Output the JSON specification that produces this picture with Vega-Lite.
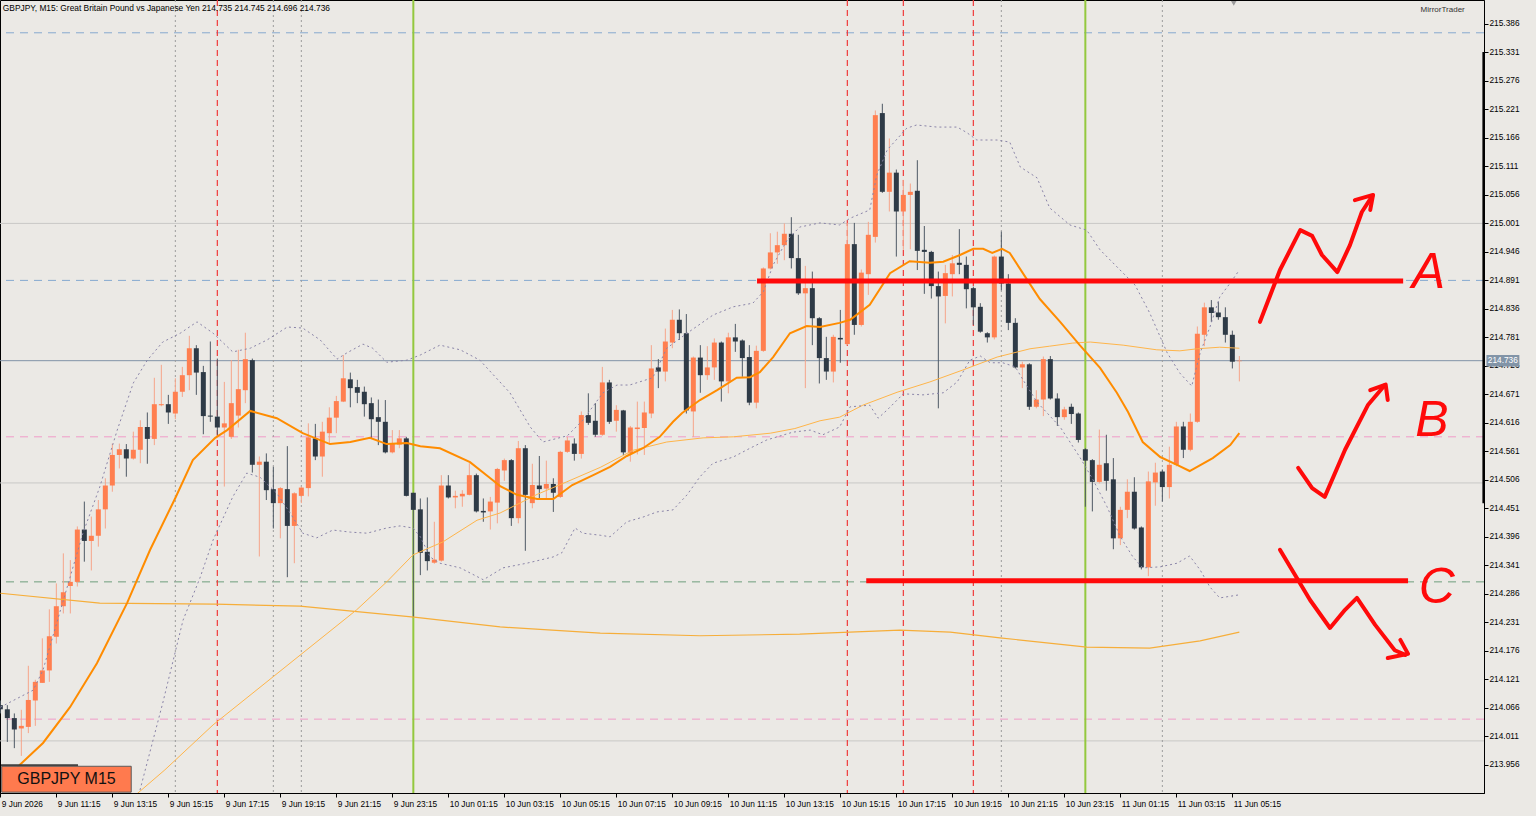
{
  "$schema": "https://vega.github.io/schema/vega-lite/v6.json",
  "width": 1484,
  "height": 793,
  "autosize": {"type": "none"},
  "padding": {"left": 0, "top": 0, "right": 52, "bottom": 23},
  "background": "#EBE9E5",
  "config": {
    "view": {"stroke": "#000000", "strokeWidth": 1},
    "scale": {"continuousPadding": 0},
    "axis": {"grid": false, "domainColor": "#000000", "tickColor": "#000000", "labelColor": "#000000", "labelFont": "Liberation Sans", "labelFontSize": 8.3, "tickSize": 4, "labelPadding": 1, "labelFlush": false, "labelOverlap": false, "labelBound": false, "labelSeparation": 0}
  },
  "datasets": {
    "candles": [
      {"bar":0,"open":214.071,"high":214.080,"low":214.055,"close":214.063},
      {"bar":1,"open":214.063,"high":214.071,"low":214.000,"close":214.046},
      {"bar":2,"open":214.046,"high":214.055,"low":213.988,"close":214.024},
      {"bar":3,"open":214.026,"high":214.062,"low":213.973,"close":214.031},
      {"bar":4,"open":214.029,"high":214.147,"low":214.017,"close":214.081},
      {"bar":5,"open":214.080,"high":214.120,"low":214.031,"close":214.116},
      {"bar":6,"open":214.114,"high":214.200,"low":214.114,"close":214.138},
      {"bar":7,"open":214.138,"high":214.256,"low":214.116,"close":214.204},
      {"bar":8,"open":214.203,"high":214.306,"low":214.190,"close":214.262},
      {"bar":9,"open":214.262,"high":214.364,"low":214.248,"close":214.289},
      {"bar":10,"open":214.301,"high":214.351,"low":214.248,"close":214.309},
      {"bar":11,"open":214.309,"high":214.416,"low":214.300,"close":214.410},
      {"bar":12,"open":214.410,"high":214.464,"low":214.348,"close":214.388},
      {"bar":13,"open":214.388,"high":214.435,"low":214.331,"close":214.398},
      {"bar":14,"open":214.398,"high":214.467,"low":214.377,"close":214.449},
      {"bar":15,"open":214.449,"high":214.509,"low":214.412,"close":214.495},
      {"bar":16,"open":214.495,"high":214.576,"low":214.483,"close":214.554},
      {"bar":17,"open":214.554,"high":214.576,"low":214.528,"close":214.565},
      {"bar":18,"open":214.565,"high":214.575,"low":214.512,"close":214.547},
      {"bar":19,"open":214.547,"high":214.599,"low":214.545,"close":214.564},
      {"bar":20,"open":214.564,"high":214.621,"low":214.538,"close":214.608},
      {"bar":21,"open":214.608,"high":214.636,"low":214.537,"close":214.585},
      {"bar":22,"open":214.585,"high":214.703,"low":214.573,"close":214.652},
      {"bar":23,"open":214.650,"high":214.728,"low":214.648,"close":214.652},
      {"bar":24,"open":214.652,"high":214.670,"low":214.614,"close":214.636},
      {"bar":25,"open":214.634,"high":214.702,"low":214.623,"close":214.676},
      {"bar":26,"open":214.676,"high":214.724,"low":214.666,"close":214.708},
      {"bar":27,"open":214.708,"high":214.784,"low":214.679,"close":214.760},
      {"bar":28,"open":214.760,"high":214.766,"low":214.670,"close":214.713},
      {"bar":29,"open":214.714,"high":214.726,"low":214.594,"close":214.629},
      {"bar":30,"open":214.630,"high":214.773,"low":214.618,"close":214.628},
      {"bar":31,"open":214.628,"high":214.740,"low":214.593,"close":214.607},
      {"bar":32,"open":214.607,"high":214.695,"low":214.493,"close":214.615},
      {"bar":33,"open":214.589,"high":214.737,"low":214.585,"close":214.654},
      {"bar":34,"open":214.630,"high":214.757,"low":214.607,"close":214.681},
      {"bar":35,"open":214.679,"high":214.790,"low":214.654,"close":214.739},
      {"bar":36,"open":214.737,"high":214.740,"low":214.520,"close":214.535},
      {"bar":37,"open":214.535,"high":214.551,"low":214.358,"close":214.541},
      {"bar":38,"open":214.541,"high":214.557,"low":214.467,"close":214.486},
      {"bar":39,"open":214.488,"high":214.531,"low":214.412,"close":214.461},
      {"bar":40,"open":214.461,"high":214.492,"low":214.393,"close":214.490},
      {"bar":41,"open":214.488,"high":214.571,"low":214.318,"close":214.417},
      {"bar":42,"open":214.417,"high":214.482,"low":214.345,"close":214.480},
      {"bar":43,"open":214.475,"high":214.493,"low":214.461,"close":214.491},
      {"bar":44,"open":214.490,"high":214.615,"low":214.474,"close":214.588},
      {"bar":45,"open":214.586,"high":214.614,"low":214.544,"close":214.551},
      {"bar":46,"open":214.551,"high":214.618,"low":214.512,"close":214.599},
      {"bar":47,"open":214.596,"high":214.646,"low":214.575,"close":214.626},
      {"bar":48,"open":214.626,"high":214.668,"low":214.596,"close":214.658},
      {"bar":49,"open":214.657,"high":214.747,"low":214.656,"close":214.702},
      {"bar":50,"open":214.700,"high":214.713,"low":214.646,"close":214.683},
      {"bar":51,"open":214.685,"high":214.699,"low":214.654,"close":214.674},
      {"bar":52,"open":214.676,"high":214.686,"low":214.628,"close":214.652},
      {"bar":53,"open":214.654,"high":214.665,"low":214.586,"close":214.623},
      {"bar":54,"open":214.627,"high":214.661,"low":214.573,"close":214.618},
      {"bar":55,"open":214.618,"high":214.660,"low":214.557,"close":214.559},
      {"bar":56,"open":214.559,"high":214.602,"low":214.557,"close":214.576},
      {"bar":57,"open":214.574,"high":214.602,"low":214.567,"close":214.586},
      {"bar":58,"open":214.586,"high":214.589,"low":214.474,"close":214.475},
      {"bar":59,"open":214.481,"high":214.481,"low":214.241,"close":214.448},
      {"bar":60,"open":214.449,"high":214.470,"low":214.322,"close":214.365},
      {"bar":61,"open":214.367,"high":214.472,"low":214.331,"close":214.349},
      {"bar":62,"open":214.346,"high":214.425,"low":214.344,"close":214.352},
      {"bar":63,"open":214.350,"high":214.515,"low":214.348,"close":214.495},
      {"bar":64,"open":214.495,"high":214.515,"low":214.470,"close":214.472},
      {"bar":65,"open":214.472,"high":214.485,"low":214.451,"close":214.475},
      {"bar":66,"open":214.474,"high":214.486,"low":214.454,"close":214.479},
      {"bar":67,"open":214.477,"high":214.538,"low":214.476,"close":214.515},
      {"bar":68,"open":214.515,"high":214.518,"low":214.443,"close":214.445},
      {"bar":69,"open":214.446,"high":214.470,"low":214.425,"close":214.443},
      {"bar":70,"open":214.445,"high":214.473,"low":214.410,"close":214.464},
      {"bar":71,"open":214.462,"high":214.529,"low":214.422,"close":214.527},
      {"bar":72,"open":214.524,"high":214.547,"low":214.504,"close":214.544},
      {"bar":73,"open":214.544,"high":214.546,"low":214.417,"close":214.432},
      {"bar":74,"open":214.432,"high":214.581,"low":214.422,"close":214.567},
      {"bar":75,"open":214.567,"high":214.573,"low":214.369,"close":214.477},
      {"bar":76,"open":214.461,"high":214.537,"low":214.451,"close":214.496},
      {"bar":77,"open":214.495,"high":214.552,"low":214.468,"close":214.488},
      {"bar":78,"open":214.489,"high":214.543,"low":214.468,"close":214.498},
      {"bar":79,"open":214.498,"high":214.509,"low":214.444,"close":214.481},
      {"bar":80,"open":214.473,"high":214.562,"low":214.471,"close":214.560},
      {"bar":81,"open":214.560,"high":214.589,"low":214.558,"close":214.582},
      {"bar":82,"open":214.576,"high":214.586,"low":214.543,"close":214.556},
      {"bar":83,"open":214.556,"high":214.638,"low":214.547,"close":214.631},
      {"bar":84,"open":214.631,"high":214.673,"low":214.612,"close":214.616},
      {"bar":85,"open":214.620,"high":214.654,"low":214.589,"close":214.593},
      {"bar":86,"open":214.593,"high":214.724,"low":214.591,"close":214.694},
      {"bar":87,"open":214.694,"high":214.699,"low":214.614,"close":214.618},
      {"bar":88,"open":214.620,"high":214.650,"low":214.599,"close":214.641},
      {"bar":89,"open":214.640,"high":214.641,"low":214.554,"close":214.559},
      {"bar":90,"open":214.557,"high":214.610,"low":214.541,"close":214.607},
      {"bar":91,"open":214.604,"high":214.657,"low":214.555,"close":214.607},
      {"bar":92,"open":214.606,"high":214.657,"low":214.554,"close":214.636},
      {"bar":93,"open":214.634,"high":214.766,"low":214.625,"close":214.721},
      {"bar":94,"open":214.723,"high":214.739,"low":214.683,"close":214.715},
      {"bar":95,"open":214.715,"high":214.798,"low":214.696,"close":214.773},
      {"bar":96,"open":214.771,"high":214.834,"low":214.760,"close":214.815},
      {"bar":97,"open":214.815,"high":214.835,"low":214.776,"close":214.789},
      {"bar":98,"open":214.789,"high":214.826,"low":214.634,"close":214.640},
      {"bar":99,"open":214.638,"high":214.744,"low":214.589,"close":214.742},
      {"bar":100,"open":214.742,"high":214.766,"low":214.674,"close":214.708},
      {"bar":101,"open":214.708,"high":214.764,"low":214.699,"close":214.723},
      {"bar":102,"open":214.723,"high":214.779,"low":214.699,"close":214.771},
      {"bar":103,"open":214.771,"high":214.773,"low":214.657,"close":214.696},
      {"bar":104,"open":214.696,"high":214.790,"low":214.673,"close":214.781},
      {"bar":105,"open":214.781,"high":214.807,"low":214.753,"close":214.773},
      {"bar":106,"open":214.775,"high":214.777,"low":214.705,"close":214.741},
      {"bar":107,"open":214.743,"high":214.766,"low":214.650,"close":214.655},
      {"bar":108,"open":214.655,"high":214.765,"low":214.644,"close":214.755},
      {"bar":109,"open":214.755,"high":214.916,"low":214.753,"close":214.914},
      {"bar":110,"open":214.914,"high":214.982,"low":214.912,"close":214.945},
      {"bar":111,"open":214.945,"high":214.985,"low":214.923,"close":214.959},
      {"bar":112,"open":214.959,"high":215.001,"low":214.930,"close":214.981},
      {"bar":113,"open":214.981,"high":215.013,"low":214.914,"close":214.934},
      {"bar":114,"open":214.934,"high":214.979,"low":214.863,"close":214.866},
      {"bar":115,"open":214.866,"high":214.919,"low":214.683,"close":214.876},
      {"bar":116,"open":214.876,"high":214.908,"low":214.766,"close":214.818},
      {"bar":117,"open":214.818,"high":214.820,"low":214.692,"close":214.741},
      {"bar":118,"open":214.741,"high":214.782,"low":214.699,"close":214.715},
      {"bar":119,"open":214.715,"high":214.786,"low":214.694,"close":214.782},
      {"bar":120,"open":214.780,"high":214.834,"low":214.732,"close":214.777},
      {"bar":121,"open":214.768,"high":215.002,"low":214.766,"close":214.961},
      {"bar":122,"open":214.961,"high":215.002,"low":214.786,"close":214.805},
      {"bar":123,"open":214.805,"high":214.912,"low":214.802,"close":214.906},
      {"bar":124,"open":214.903,"high":215.004,"low":214.863,"close":214.979},
      {"bar":125,"open":214.975,"high":215.219,"low":214.964,"close":215.210},
      {"bar":126,"open":215.214,"high":215.232,"low":215.060,"close":215.062},
      {"bar":127,"open":215.062,"high":215.165,"low":215.024,"close":215.099},
      {"bar":128,"open":215.099,"high":215.105,"low":214.937,"close":215.024},
      {"bar":129,"open":215.024,"high":215.085,"low":214.950,"close":215.056},
      {"bar":130,"open":215.056,"high":215.078,"low":214.951,"close":215.062},
      {"bar":131,"open":215.064,"high":215.123,"low":214.911,"close":214.948},
      {"bar":132,"open":214.950,"high":214.996,"low":214.865,"close":214.946},
      {"bar":133,"open":214.946,"high":214.948,"low":214.856,"close":214.880},
      {"bar":134,"open":214.880,"high":214.908,"low":214.644,"close":214.860},
      {"bar":135,"open":214.861,"high":214.921,"low":214.808,"close":214.905},
      {"bar":136,"open":214.903,"high":214.940,"low":214.860,"close":214.924},
      {"bar":137,"open":214.925,"high":214.990,"low":214.903,"close":214.921},
      {"bar":138,"open":214.921,"high":214.937,"low":214.837,"close":214.874},
      {"bar":139,"open":214.876,"high":214.879,"low":214.805,"close":214.839},
      {"bar":140,"open":214.840,"high":214.847,"low":214.790,"close":214.792},
      {"bar":141,"open":214.789,"high":214.791,"low":214.771,"close":214.781},
      {"bar":142,"open":214.781,"high":214.939,"low":214.777,"close":214.937},
      {"bar":143,"open":214.937,"high":214.985,"low":214.872,"close":214.885},
      {"bar":144,"open":214.885,"high":214.903,"low":214.795,"close":214.809},
      {"bar":145,"open":214.809,"high":214.818,"low":214.721,"close":214.723},
      {"bar":146,"open":214.723,"high":214.734,"low":214.683,"close":214.729},
      {"bar":147,"open":214.729,"high":214.731,"low":214.641,"close":214.647},
      {"bar":148,"open":214.647,"high":214.679,"low":214.644,"close":214.661},
      {"bar":149,"open":214.661,"high":214.744,"low":214.629,"close":214.739},
      {"bar":150,"open":214.739,"high":214.745,"low":214.661,"close":214.663},
      {"bar":151,"open":214.663,"high":214.673,"low":214.610,"close":214.627},
      {"bar":152,"open":214.627,"high":214.647,"low":214.622,"close":214.642},
      {"bar":153,"open":214.647,"high":214.653,"low":214.614,"close":214.633},
      {"bar":154,"open":214.634,"high":214.636,"low":214.578,"close":214.583},
      {"bar":155,"open":214.565,"high":214.567,"low":214.454,"close":214.543},
      {"bar":156,"open":214.544,"high":214.546,"low":214.445,"close":214.502},
      {"bar":157,"open":214.502,"high":214.603,"low":214.499,"close":214.535},
      {"bar":158,"open":214.538,"high":214.593,"low":214.485,"close":214.504},
      {"bar":159,"open":214.507,"high":214.548,"low":214.372,"close":214.393},
      {"bar":160,"open":214.393,"high":214.454,"low":214.380,"close":214.448},
      {"bar":161,"open":214.448,"high":214.507,"low":214.432,"close":214.483},
      {"bar":162,"open":214.483,"high":214.511,"low":214.410,"close":214.412},
      {"bar":163,"open":214.414,"high":214.416,"low":214.333,"close":214.337},
      {"bar":164,"open":214.337,"high":214.522,"low":214.320,"close":214.503},
      {"bar":165,"open":214.501,"high":214.539,"low":214.456,"close":214.520},
      {"bar":166,"open":214.522,"high":214.526,"low":214.464,"close":214.492},
      {"bar":167,"open":214.492,"high":214.570,"low":214.470,"close":214.535},
      {"bar":168,"open":214.535,"high":214.618,"low":214.532,"close":214.609},
      {"bar":169,"open":214.609,"high":214.618,"low":214.548,"close":214.564},
      {"bar":170,"open":214.564,"high":214.634,"low":214.561,"close":214.618},
      {"bar":171,"open":214.618,"high":214.802,"low":214.616,"close":214.788},
      {"bar":172,"open":214.786,"high":214.848,"low":214.764,"close":214.839},
      {"bar":173,"open":214.839,"high":214.853,"low":214.811,"close":214.828},
      {"bar":174,"open":214.829,"high":214.850,"low":214.815,"close":214.820},
      {"bar":175,"open":214.820,"high":214.839,"low":214.771,"close":214.786},
      {"bar":176,"open":214.786,"high":214.794,"low":214.721,"close":214.734},
      {"bar":177,"open":214.735,"high":214.745,"low":214.696,"close":214.736}
    ],
    "maFast": [
      {"bar":0.7,"price":213.917},{"bar":2.8,"price":213.956},{"bar":6.1,"price":213.998},{"bar":9.95,"price":214.067},{"bar":13.8,"price":214.152},{"bar":18.1,"price":214.268},{"bar":21.4,"price":214.371},{"bar":25.0,"price":214.471},{"bar":27.5,"price":214.544},{"bar":30.7,"price":214.587},{"bar":32.4,"price":214.602},{"bar":35.7,"price":214.639},{"bar":39.5,"price":214.625},{"bar":43.2,"price":214.596},{"bar":47.1,"price":214.575},{"bar":50.0,"price":214.579},{"bar":52.8,"price":214.587},{"bar":55.2,"price":214.575},{"bar":58.1,"price":214.577},{"bar":60.0,"price":214.571},{"bar":62.8,"price":214.567},{"bar":67.1,"price":214.540},{"bar":70.0,"price":214.509},{"bar":71.4,"price":214.494},{"bar":73.8,"price":214.477},{"bar":76.7,"price":214.469},{"bar":79.0,"price":214.469},{"bar":81.7,"price":214.496},{"bar":84.7,"price":214.515},{"bar":87.1,"price":214.531},{"bar":89.5,"price":214.552},{"bar":91.8,"price":214.567},{"bar":94.2,"price":214.589},{"bar":96.1,"price":214.618},{"bar":97.4,"price":214.635},{"bar":99.95,"price":214.660},{"bar":102.4,"price":214.679},{"bar":105.2,"price":214.703},{"bar":107.1,"price":214.704},{"bar":108.5,"price":214.714},{"bar":110.4,"price":214.743},{"bar":112.8,"price":214.789},{"bar":115.2,"price":214.803},{"bar":117.1,"price":214.801},{"bar":119.9,"price":214.809},{"bar":121.4,"price":214.815},{"bar":124.2,"price":214.844},{"bar":127.1,"price":214.905},{"bar":129.9,"price":214.928},{"bar":132.8,"price":214.925},{"bar":134.7,"price":214.927},{"bar":137.1,"price":214.940},{"bar":139.0,"price":214.952},{"bar":140.4,"price":214.952},{"bar":141.7,"price":214.944},{"bar":143.1,"price":214.952},{"bar":144.2,"price":214.944},{"bar":146.7,"price":214.892},{"bar":148.5,"price":214.855},{"bar":151.4,"price":214.811},{"bar":154.2,"price":214.766},{"bar":157.1,"price":214.722},{"bar":159.5,"price":214.674},{"bar":161.1,"price":214.637},{"bar":163.2,"price":214.579},{"bar":165.7,"price":214.550},{"bar":168.1,"price":214.535},{"bar":169.9,"price":214.523},{"bar":173.2,"price":214.548},{"bar":175.7,"price":214.573},{"bar":177,"price":214.596}
    ],
    "maMid": [
      {"bar":18.5,"price":213.888},{"bar":23.5,"price":213.946},{"bar":30.4,"price":214.033},{"bar":50.9,"price":214.255},{"bar":55.2,"price":214.309},{"bar":58.95,"price":214.361},{"bar":63.2,"price":214.386},{"bar":68.1,"price":214.428},{"bar":71.4,"price":214.442},{"bar":76.7,"price":214.478},{"bar":80.9,"price":214.502},{"bar":85.7,"price":214.530},{"bar":90.4,"price":214.563},{"bar":95.2,"price":214.579},{"bar":100.4,"price":214.587},{"bar":104.7,"price":214.589},{"bar":110.0,"price":214.596},{"bar":113.5,"price":214.605},{"bar":117.1,"price":214.620},{"bar":119.9,"price":214.627},{"bar":123.2,"price":214.650},{"bar":128.1,"price":214.675},{"bar":132.8,"price":214.695},{"bar":137.5,"price":214.718},{"bar":142.4,"price":214.743},{"bar":147.1,"price":214.759},{"bar":149.9,"price":214.764},{"bar":153.2,"price":214.770},{"bar":155.7,"price":214.772},{"bar":160.4,"price":214.766},{"bar":165.2,"price":214.757},{"bar":168.5,"price":214.755},{"bar":171.0,"price":214.759},{"bar":174.2,"price":214.762},{"bar":177,"price":214.760}
    ],
    "maSlow": [
      {"bar":0,"price":214.287},{"bar":14.2,"price":214.268},{"bar":30.7,"price":214.266},{"bar":42.8,"price":214.262},{"bar":59.1,"price":214.241},{"bar":71.4,"price":214.222},{"bar":85.7,"price":214.210},{"bar":99.95,"price":214.205},{"bar":114.2,"price":214.208},{"bar":128.5,"price":214.216},{"bar":135.7,"price":214.212},{"bar":142.8,"price":214.201},{"bar":155.2,"price":214.183},{"bar":164.2,"price":214.181},{"bar":171.4,"price":214.195},{"bar":177,"price":214.212}
    ],
    "bands": [
      {"band":"upper","bar":0,"price":214.067},{"band":"upper","bar":4.7,"price":214.100},{"band":"upper","bar":6.1,"price":214.139},{"band":"upper","bar":11.8,"price":214.403},{"band":"upper","bar":14.2,"price":214.492},{"band":"upper","bar":16.7,"price":214.602},{"band":"upper","bar":19.0,"price":214.693},{"band":"upper","bar":21.0,"price":214.737},{"band":"upper","bar":23.2,"price":214.772},{"band":"upper","bar":25.7,"price":214.789},{"band":"upper","bar":28.1,"price":214.811},{"band":"upper","bar":30.4,"price":214.789},{"band":"upper","bar":33.2,"price":214.753},{"band":"upper","bar":35.7,"price":214.760},{"band":"upper","bar":38.1,"price":214.776},{"band":"upper","bar":41.0,"price":214.801},{"band":"upper","bar":43.2,"price":214.799},{"band":"upper","bar":45.7,"price":214.776},{"band":"upper","bar":48.1,"price":214.739},{"band":"upper","bar":49.5,"price":214.751},{"band":"upper","bar":51.8,"price":214.768},{"band":"upper","bar":53.2,"price":214.760},{"band":"upper","bar":55.2,"price":214.733},{"band":"upper","bar":58.1,"price":214.737},{"band":"upper","bar":60.0,"price":214.747},{"band":"upper","bar":62.8,"price":214.766},{"band":"upper","bar":65.7,"price":214.757},{"band":"upper","bar":68.5,"price":214.737},{"band":"upper","bar":72.8,"price":214.674},{"band":"upper","bar":75.7,"price":214.608},{"band":"upper","bar":77.5,"price":214.579},{"band":"upper","bar":81.0,"price":214.591},{"band":"upper","bar":83.2,"price":214.621},{"band":"upper","bar":86.1,"price":214.674},{"band":"upper","bar":88.1,"price":214.689},{"band":"upper","bar":89.9,"price":214.689},{"band":"upper","bar":93.2,"price":214.703},{"band":"upper","bar":95.2,"price":214.760},{"band":"upper","bar":98.1,"price":214.789},{"band":"upper","bar":101.8,"price":214.824},{"band":"upper","bar":104.7,"price":214.840},{"band":"upper","bar":107.5,"price":214.847},{"band":"upper","bar":109.0,"price":214.869},{"band":"upper","bar":110.4,"price":214.921},{"band":"upper","bar":112.4,"price":214.969},{"band":"upper","bar":114.2,"price":214.994},{"band":"upper","bar":117.1,"price":215.002},{"band":"upper","bar":119.9,"price":214.998},{"band":"upper","bar":121.4,"price":215.011},{"band":"upper","bar":124.2,"price":215.027},{"band":"upper","bar":125.2,"price":215.094},{"band":"upper","bar":126.7,"price":215.143},{"band":"upper","bar":129.5,"price":215.185},{"band":"upper","bar":130.9,"price":215.191},{"band":"upper","bar":133.8,"price":215.187},{"band":"upper","bar":136.7,"price":215.187},{"band":"upper","bar":138.1,"price":215.176},{"band":"upper","bar":139.5,"price":215.162},{"band":"upper","bar":142.4,"price":215.162},{"band":"upper","bar":144.2,"price":215.158},{"band":"upper","bar":145.7,"price":215.110},{"band":"upper","bar":148.1,"price":215.089},{"band":"upper","bar":149.9,"price":215.031},{"band":"upper","bar":152.8,"price":214.998},{"band":"upper","bar":155.2,"price":214.988},{"band":"upper","bar":157.1,"price":214.950},{"band":"upper","bar":162.1,"price":214.882},{"band":"upper","bar":164.2,"price":214.828},{"band":"upper","bar":166.7,"price":214.751},{"band":"upper","bar":168.5,"price":214.712},{"band":"upper","bar":170.2,"price":214.687},{"band":"upper","bar":171.4,"price":214.751},{"band":"upper","bar":172.8,"price":214.801},{"band":"upper","bar":174.2,"price":214.859},{"band":"upper","bar":175.7,"price":214.886},{"band":"upper","bar":177,"price":214.911},
      {"band":"lower","bar":19.95,"price":213.907},{"band":"lower","bar":23.2,"price":214.075},{"band":"lower","bar":26.1,"price":214.235},{"band":"lower","bar":28.5,"price":214.316},{"band":"lower","bar":30.4,"price":214.390},{"band":"lower","bar":33.2,"price":214.473},{"band":"lower","bar":35.2,"price":214.519},{"band":"lower","bar":37.1,"price":214.511},{"band":"lower","bar":39.5,"price":214.480},{"band":"lower","bar":41.4,"price":214.442},{"band":"lower","bar":43.2,"price":214.403},{"band":"lower","bar":45.2,"price":214.394},{"band":"lower","bar":47.5,"price":214.409},{"band":"lower","bar":50.0,"price":214.405},{"band":"lower","bar":52.4,"price":214.403},{"band":"lower","bar":55.2,"price":214.413},{"band":"lower","bar":57.1,"price":214.417},{"band":"lower","bar":58.95,"price":214.413},{"band":"lower","bar":60.0,"price":214.396},{"band":"lower","bar":61.4,"price":214.357},{"band":"lower","bar":62.8,"price":214.345},{"band":"lower","bar":65.7,"price":214.336},{"band":"lower","bar":69.0,"price":214.313},{"band":"lower","bar":71.8,"price":214.336},{"band":"lower","bar":75.2,"price":214.345},{"band":"lower","bar":78.95,"price":214.357},{"band":"lower","bar":80.2,"price":214.365},{"band":"lower","bar":82.1,"price":214.413},{"band":"lower","bar":83.2,"price":214.403},{"band":"lower","bar":85.7,"price":214.399},{"band":"lower","bar":87.1,"price":214.396},{"band":"lower","bar":89.5,"price":214.425},{"band":"lower","bar":91.8,"price":214.434},{"band":"lower","bar":93.8,"price":214.444},{"band":"lower","bar":96.1,"price":214.448},{"band":"lower","bar":98.1,"price":214.477},{"band":"lower","bar":99.95,"price":214.512},{"band":"lower","bar":101.8,"price":214.538},{"band":"lower","bar":104.7,"price":214.550},{"band":"lower","bar":107.1,"price":214.567},{"band":"lower","bar":109.5,"price":214.583},{"band":"lower","bar":113.2,"price":214.598},{"band":"lower","bar":115.7,"price":214.602},{"band":"lower","bar":117.5,"price":214.593},{"band":"lower","bar":119.9,"price":214.608},{"band":"lower","bar":121.4,"price":214.647},{"band":"lower","bar":124.2,"price":214.650},{"band":"lower","bar":125.4,"price":214.625},{"band":"lower","bar":126.7,"price":214.641},{"band":"lower","bar":129.0,"price":214.672},{"band":"lower","bar":131.8,"price":214.670},{"band":"lower","bar":134.7,"price":214.674},{"band":"lower","bar":136.7,"price":214.695},{"band":"lower","bar":138.5,"price":214.737},{"band":"lower","bar":140.0,"price":214.745},{"band":"lower","bar":141.4,"price":214.732},{"band":"lower","bar":143.2,"price":214.732},{"band":"lower","bar":145.0,"price":214.724},{"band":"lower","bar":146.1,"price":214.699},{"band":"lower","bar":148.1,"price":214.656},{"band":"lower","bar":151.4,"price":214.608},{"band":"lower","bar":154.2,"price":214.550},{"band":"lower","bar":156.1,"price":214.506},{"band":"lower","bar":158.1,"price":214.454},{"band":"lower","bar":160.0,"price":214.396},{"band":"lower","bar":161.8,"price":214.357},{"band":"lower","bar":163.2,"price":214.336},{"band":"lower","bar":165.7,"price":214.338},{"band":"lower","bar":168.1,"price":214.345},{"band":"lower","bar":169.9,"price":214.359},{"band":"lower","bar":171.4,"price":214.332},{"band":"lower","bar":172.8,"price":214.299},{"band":"lower","bar":174.2,"price":214.278},{"band":"lower","bar":177,"price":214.284}
    ],
    "strokes": [
      {"stroke":"a1","n":0,"bar":179.95,"price":214.811},{"stroke":"a1","n":1,"bar":182.8,"price":214.911},{"stroke":"a1","n":2,"bar":185.7,"price":214.988},{"stroke":"a1","n":3,"bar":187.4,"price":214.977},{"stroke":"a1","n":4,"bar":188.8,"price":214.940},{"stroke":"a1","n":5,"bar":191.0,"price":214.907},{"stroke":"a1","n":6,"bar":192.8,"price":214.959},{"stroke":"a1","n":7,"bar":194.5,"price":215.023},{"stroke":"a1","n":8,"bar":196.0,"price":215.054},
      {"stroke":"a2","n":0,"bar":193.5,"price":215.046},{"stroke":"a2","n":1,"bar":196.1,"price":215.056},{"stroke":"a2","n":2,"bar":195.7,"price":215.027},
      {"stroke":"b1","n":0,"bar":185.4,"price":214.529},{"stroke":"b1","n":1,"bar":187.4,"price":214.490},{"stroke":"b1","n":2,"bar":189.2,"price":214.473},{"stroke":"b1","n":3,"bar":192.1,"price":214.564},{"stroke":"b1","n":4,"bar":195.4,"price":214.651},{"stroke":"b1","n":5,"bar":197.8,"price":214.689},
      {"stroke":"b2","n":0,"bar":195.7,"price":214.679},{"stroke":"b2","n":1,"bar":197.9,"price":214.690},{"stroke":"b2","n":2,"bar":198.2,"price":214.660},
      {"stroke":"c1","n":0,"bar":182.8,"price":214.371},{"stroke":"c1","n":1,"bar":187.1,"price":214.274},{"stroke":"c1","n":2,"bar":189.95,"price":214.220},{"stroke":"c1","n":3,"bar":192.1,"price":214.255},{"stroke":"c1","n":4,"bar":193.8,"price":214.278},{"stroke":"c1","n":5,"bar":196.4,"price":214.226},{"stroke":"c1","n":6,"bar":199.2,"price":214.177},{"stroke":"c1","n":7,"bar":200.7,"price":214.168},
      {"stroke":"c2","n":0,"bar":198.2,"price":214.162},{"stroke":"c2","n":1,"bar":201.1,"price":214.170},{"stroke":"c2","n":2,"bar":200.0,"price":214.197}
    ]
  },
  "layer": [
    {
      "data": {"values": [{"price": 215.001}, {"price": 214.500}, {"price": 214.002}]},
      "mark": {"type": "rule", "color": "#C8C8C6", "strokeWidth": 1},
      "encoding": {"y": {"field": "price", "type": "quantitative", "title": null, "scale": {"domain": [213.9014, 215.4323], "nice": false, "zero": false}}}
    },
    {
      "data": {"values": [{"price": 215.369}, {"price": 214.891}]},
      "mark": {"type": "rule", "color": "#86A9CF", "strokeWidth": 1, "strokeDash": [8, 6]},
      "encoding": {"y": {"field": "price", "type": "quantitative", "title": null, "scale": {"domain": [213.9014, 215.4323], "nice": false, "zero": false}}}
    },
    {
      "data": {"values": [{"price": 214.589}, {"price": 214.044}]},
      "mark": {"type": "rule", "color": "#F09BC8", "strokeWidth": 1, "strokeDash": [8, 6]},
      "encoding": {"y": {"field": "price", "type": "quantitative", "title": null, "scale": {"domain": [213.9014, 215.4323], "nice": false, "zero": false}}}
    },
    {
      "data": {"values": [{"price": 214.309}]},
      "mark": {"type": "rule", "color": "#6E9E7C", "strokeWidth": 1, "strokeDash": [8, 6]},
      "encoding": {"y": {"field": "price", "type": "quantitative", "title": null, "scale": {"domain": [213.9014, 215.4323], "nice": false, "zero": false}}}
    },
    {
      "data": {"values": [{"price": 214.736}]},
      "mark": {"type": "rule", "color": "#8294A7", "strokeWidth": 1},
      "encoding": {"y": {"field": "price", "type": "quantitative", "title": null, "scale": {"domain": [213.9014, 215.4323], "nice": false, "zero": false}}}
    },
    {
      "data": {"values": [{"bar": 31}, {"bar": 121}, {"bar": 129}, {"bar": 139}]},
      "mark": {"type": "rule", "color": "#F03A3A", "strokeWidth": 1.2, "strokeDash": [6, 4]},
      "encoding": {"x": {"field": "bar", "type": "quantitative", "title": null, "scale": {"domain": [-0.047, 211.95], "nice": false, "zero": false}}}
    },
    {
      "data": {"values": [{"bar": 25}, {"bar": 39}, {"bar": 43}, {"bar": 143}, {"bar": 166}]},
      "mark": {"type": "rule", "color": "#9C9C9C", "strokeWidth": 1, "strokeDash": [2, 3]},
      "encoding": {"x": {"field": "bar", "type": "quantitative", "title": null, "scale": {"domain": [-0.047, 211.95], "nice": false, "zero": false}}}
    },
    {
      "data": {"values": [{"bar": 59}, {"bar": 155}]},
      "mark": {"type": "rule", "color": "#93C83E", "strokeWidth": 2},
      "encoding": {"x": {"field": "bar", "type": "quantitative", "title": null, "scale": {"domain": [-0.047, 211.95], "nice": false, "zero": false}}}
    },
    {
      "data": {"name": "candles"},
      "mark": {"type": "rule", "strokeWidth": 1, "clip": true},
      "encoding": {
        "x": {"field": "bar", "type": "quantitative", "title": null, "scale": {"domain": [-0.047, 211.95], "nice": false, "zero": false}},
        "y": {"field": "low", "type": "quantitative", "title": null, "scale": {"domain": [213.9014, 215.4323], "nice": false, "zero": false}},
        "y2": {"field": "high"},
        "color": {"condition": {"test": "datum.close >= datum.open", "value": "#F6A48A"}, "value": "#4E5864"}
      }
    },
    {
      "data": {"name": "candles"},
      "mark": {"type": "bar", "width": 5, "clip": true},
      "encoding": {
        "x": {"field": "bar", "type": "quantitative", "title": null, "scale": {"domain": [-0.047, 211.95], "nice": false, "zero": false, "padding": 0},
          "axis": {"values": [0, 8, 16, 24, 32, 40, 48, 56, 64, 72, 80, 88, 96, 104, 112, 120, 128, 136, 144, 152, 160, 168, 176], "tickCount": 60, "labelExpr": "datum.value == 0 ? '9 Jun 2026' : (9 + floor((9 + datum.value / 4) / 24)) + ' Jun ' + pad('' + ((9 + datum.value / 4) % 24), 2, '0', 'left') + ':15'", "labelAlign": "left", "labelBaseline": "top", "labelOffset": 1, "labelPadding": 2, "labelOverlap": false}},
        "y": {"field": "open", "type": "quantitative", "title": null, "scale": {"domain": [213.9014, 215.4323], "nice": false, "zero": false, "padding": 0},
          "axis": {"orient": "right", "values": [213.956, 214.011, 214.066, 214.121, 214.176, 214.231, 214.286, 214.341, 214.396, 214.451, 214.506, 214.561, 214.616, 214.671, 214.726, 214.781, 214.836, 214.891, 214.946, 215.001, 215.056, 215.111, 215.166, 215.221, 215.276, 215.331, 215.386], "tickCount": 60, "format": ".3f", "labelAlign": "left", "labelBaseline": "middle", "labelOverlap": false, "labelSeparation": 0}},
        "y2": {"field": "close"},
        "color": {"condition": {"test": "datum.close >= datum.open", "value": "#FF7F50"}, "value": "#2E3A46"}
      }
    },
    {
      "data": {"name": "maSlow"},
      "mark": {"type": "line", "color": "#F6AE3A", "strokeWidth": 1.2, "clip": true},
      "encoding": {
        "x": {"field": "bar", "type": "quantitative", "title": null, "scale": {"domain": [-0.047, 211.95], "nice": false, "zero": false}},
        "y": {"field": "price", "type": "quantitative", "title": null, "scale": {"domain": [213.9014, 215.4323], "nice": false, "zero": false}}
      }
    },
    {
      "data": {"name": "maMid"},
      "mark": {"type": "line", "color": "#FFB54A", "strokeWidth": 1, "clip": true},
      "encoding": {
        "x": {"field": "bar", "type": "quantitative", "title": null, "scale": {"domain": [-0.047, 211.95], "nice": false, "zero": false}},
        "y": {"field": "price", "type": "quantitative", "title": null, "scale": {"domain": [213.9014, 215.4323], "nice": false, "zero": false}}
      }
    },
    {
      "data": {"name": "bands"},
      "mark": {"type": "line", "color": "#8A84A8", "strokeWidth": 1, "strokeDash": [2, 3], "clip": true},
      "encoding": {
        "x": {"field": "bar", "type": "quantitative", "title": null, "scale": {"domain": [-0.047, 211.95], "nice": false, "zero": false}},
        "y": {"field": "price", "type": "quantitative", "title": null, "scale": {"domain": [213.9014, 215.4323], "nice": false, "zero": false}},
        "detail": {"field": "band"}
      }
    },
    {
      "data": {"name": "maFast"},
      "mark": {"type": "line", "color": "#FF8C00", "strokeWidth": 2, "clip": true},
      "encoding": {
        "x": {"field": "bar", "type": "quantitative", "title": null, "scale": {"domain": [-0.047, 211.95], "nice": false, "zero": false}},
        "y": {"field": "price", "type": "quantitative", "title": null, "scale": {"domain": [213.9014, 215.4323], "nice": false, "zero": false}}
      }
    },
    {
      "data": {"values": [{"bar": 108.1, "bar2": 200.4, "price": 214.890}, {"bar": 123.7, "bar2": 201.1, "price": 214.311}]},
      "mark": {"type": "rule", "color": "#FF0A0A", "strokeWidth": 5},
      "encoding": {
        "x": {"field": "bar", "type": "quantitative", "title": null, "scale": {"domain": [-0.047, 211.95], "nice": false, "zero": false}},
        "x2": {"field": "bar2"},
        "y": {"field": "price", "type": "quantitative", "title": null, "scale": {"domain": [213.9014, 215.4323], "nice": false, "zero": false}}
      }
    },
    {
      "data": {"name": "strokes"},
      "mark": {"type": "line", "color": "#FF0A0A", "strokeWidth": 4, "strokeCap": "round", "strokeJoin": "round"},
      "encoding": {
        "x": {"field": "bar", "type": "quantitative", "title": null, "scale": {"domain": [-0.047, 211.95], "nice": false, "zero": false}},
        "y": {"field": "price", "type": "quantitative", "title": null, "scale": {"domain": [213.9014, 215.4323], "nice": false, "zero": false}},
        "detail": {"field": "stroke"},
        "order": {"field": "n"}
      }
    },
    {
      "data": {"values": [{"bar": 204.0, "price": 214.905, "label": "A"}, {"bar": 204.5, "price": 214.620, "label": "B"}, {"bar": 205.2, "price": 214.298, "label": "C"}]},
      "mark": {"type": "text", "color": "#FF0A0A", "fontSize": 50, "font": "Liberation Sans", "fontStyle": "italic", "align": "center", "baseline": "middle"},
      "encoding": {
        "x": {"field": "bar", "type": "quantitative", "title": null, "scale": {"domain": [-0.047, 211.95], "nice": false, "zero": false}},
        "y": {"field": "price", "type": "quantitative", "title": null, "scale": {"domain": [213.9014, 215.4323], "nice": false, "zero": false}},
        "text": {"field": "label"}
      }
    },
    {
      "data": {"values": [{"bar": 0.35, "price": 215.4165, "label": "GBPJPY, M15:  Great Britain Pound vs Japanese Yen  214.735 214.745 214.696 214.736"}]},
      "mark": {"type": "text", "color": "#000000", "fontSize": 8.4, "font": "Liberation Sans", "align": "left", "baseline": "middle"},
      "encoding": {
        "x": {"field": "bar", "type": "quantitative", "title": null, "scale": {"domain": [-0.047, 211.95], "nice": false, "zero": false}},
        "y": {"field": "price", "type": "quantitative", "title": null, "scale": {"domain": [213.9014, 215.4323], "nice": false, "zero": false}},
        "text": {"field": "label"}
      }
    },
    {
      "data": {"values": [{"bar": 209.2, "price": 215.413, "label": "MirrorTrader"}]},
      "mark": {"type": "text", "color": "#333333", "fontSize": 8, "font": "Liberation Sans", "align": "right", "baseline": "middle"},
      "encoding": {
        "x": {"field": "bar", "type": "quantitative", "title": null, "scale": {"domain": [-0.047, 211.95], "nice": false, "zero": false}},
        "y": {"field": "price", "type": "quantitative", "title": null, "scale": {"domain": [213.9014, 215.4323], "nice": false, "zero": false}},
        "text": {"field": "label"}
      }
    },
    {
      "data": {"values": [{"bar": 176.2, "price": 215.426}]},
      "mark": {"type": "point", "shape": "triangle-down", "size": 30, "filled": true, "color": "#9A9A9A", "opacity": 1},
      "encoding": {
        "x": {"field": "bar", "type": "quantitative", "title": null, "scale": {"domain": [-0.047, 211.95], "nice": false, "zero": false}},
        "y": {"field": "price", "type": "quantitative", "title": null, "scale": {"domain": [213.9014, 215.4323], "nice": false, "zero": false}}
      }
    },
    {
      "data": {"values": [{"bar": 0.1, "bar2": 11.1, "price": 213.955}]},
      "mark": {"type": "rule", "color": "#3C3C3C", "strokeWidth": 2},
      "encoding": {
        "x": {"field": "bar", "type": "quantitative", "title": null, "scale": {"domain": [-0.047, 211.95], "nice": false, "zero": false}},
        "x2": {"field": "bar2"},
        "y": {"field": "price", "type": "quantitative", "title": null, "scale": {"domain": [213.9014, 215.4323], "nice": false, "zero": false}}
      }
    },
    {
      "data": {"values": [{"bar": 0.2, "bar2": 18.7, "price": 213.953, "price2": 213.903}]},
      "mark": {"type": "rect", "color": "#FF7A4E", "stroke": "#5A5A5A", "strokeWidth": 1},
      "encoding": {
        "x": {"field": "bar", "type": "quantitative", "title": null, "scale": {"domain": [-0.047, 211.95], "nice": false, "zero": false}},
        "x2": {"field": "bar2"},
        "y": {"field": "price", "type": "quantitative", "title": null, "scale": {"domain": [213.9014, 215.4323], "nice": false, "zero": false}},
        "y2": {"field": "price2"}
      }
    },
    {
      "data": {"values": [{"bar": 9.45, "price": 213.928, "label": "GBPJPY M15"}]},
      "mark": {"type": "text", "color": "#111111", "fontSize": 16, "font": "Liberation Sans", "align": "center", "baseline": "middle"},
      "encoding": {
        "x": {"field": "bar", "type": "quantitative", "title": null, "scale": {"domain": [-0.047, 211.95], "nice": false, "zero": false}},
        "y": {"field": "price", "type": "quantitative", "title": null, "scale": {"domain": [213.9014, 215.4323], "nice": false, "zero": false}},
        "text": {"field": "label"}
      }
    },
    {
      "data": {"values": [{"bar": 211.9, "price": 215.332, "price2": 214.461}]},
      "mark": {"type": "rule", "color": "#000000", "strokeWidth": 2.5},
      "encoding": {
        "x": {"field": "bar", "type": "quantitative", "title": null, "scale": {"domain": [-0.047, 211.95], "nice": false, "zero": false}},
        "y": {"field": "price", "type": "quantitative", "title": null, "scale": {"domain": [213.9014, 215.4323], "nice": false, "zero": false}},
        "y2": {"field": "price2"}
      }
    },
    {
      "data": {"values": [{"bar": 212.3, "bar2": 217.0, "price": 214.747, "price2": 214.725}]},
      "mark": {"type": "rect", "color": "#8294A7", "clip": false},
      "encoding": {
        "x": {"field": "bar", "type": "quantitative", "title": null, "scale": {"domain": [-0.047, 211.95], "nice": false, "zero": false}},
        "x2": {"field": "bar2"},
        "y": {"field": "price", "type": "quantitative", "title": null, "scale": {"domain": [213.9014, 215.4323], "nice": false, "zero": false}},
        "y2": {"field": "price2"}
      }
    },
    {
      "data": {"values": [{"bar": 212.5, "price": 214.736, "label": "214.736"}]},
      "mark": {"type": "text", "color": "#FFFFFF", "fontSize": 8.3, "font": "Liberation Sans", "align": "left", "baseline": "middle"},
      "encoding": {
        "x": {"field": "bar", "type": "quantitative", "title": null, "scale": {"domain": [-0.047, 211.95], "nice": false, "zero": false}},
        "y": {"field": "price", "type": "quantitative", "title": null, "scale": {"domain": [213.9014, 215.4323], "nice": false, "zero": false}},
        "text": {"field": "label"}
      }
    }
  ]
}
